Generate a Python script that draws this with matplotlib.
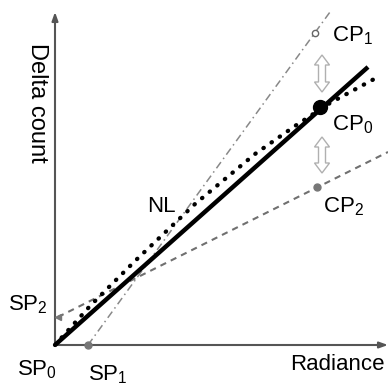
import matplotlib
matplotlib.use('Agg')
from matplotlib import pyplot as plt
from matplotlib.patches import Polygon

plt.rcParams['font.family'] = ['Liberation Sans', 'DejaVu Sans']
plt.rcParams['mathtext.fontset'] = 'custom'
plt.rcParams['mathtext.rm'] = 'Liberation Sans'
plt.rcParams['mathtext.default'] = 'regular'

# points (radiance, delta count), arbitrary units
sp0 = (0, 0)
sp1 = (33, 0)
sp2 = (3, 28)
cp0 = (265, 238)
cp1 = (260, 312)
cp2 = (262, 158)

# lines
lin_x = [0, 313]
lin_y = [0, 278]
dd_x = [33, 275]          # SP1 -> CP1
dd_y = [0, 333]
dash_x = [3, 333]         # SP2 -> CP2
dash_y = [28, 193]
nl_x = [0, 35, 80, 140, 200, 240, 275, 321]   # nonlinear response
nl_y = [0, 39, 84, 141, 191, 219, 242, 267]

# gap arrows between CP1/CP0 and CP0/CP2
gap_x = [267, 267]
gap_top = [290, 208]
gap_bot = [253, 172]


def hollow_double_arrow(ax, x, y_top, y_bot, sw=3.5, hw=7.5, hl=10):
    pts = [(x, y_top), (x + hw, y_top - hl), (x + sw, y_top - hl),
           (x + sw, y_bot + hl), (x + hw, y_bot + hl), (x, y_bot),
           (x - hw, y_bot + hl), (x - sw, y_bot + hl), (x - sw, y_top - hl),
           (x - hw, y_top - hl)]
    ax.add_patch(Polygon(pts, closed=True, fc='white', ec='#b0b0b0', lw=1, zorder=2))


fig = plt.figure(figsize=(3.88, 3.87), dpi=100)
ax = fig.add_axes([0, 0, 1, 1])
ax.set_xlim(-55, 333)
ax.set_ylim(-42, 345)
ax.axis('off')

# axes with arrows
ax.annotate('', xy=(0, 333), xytext=(0, 0),
            arrowprops=dict(arrowstyle='-|>,head_length=0.5,head_width=0.18',
                            color='#555555', lw=1.5, shrinkA=0, shrinkB=0))
ax.annotate('', xy=(333, 0), xytext=(0, 0),
            arrowprops=dict(arrowstyle='-|>,head_length=0.5,head_width=0.18',
                            color='#555555', lw=1.5, shrinkA=0, shrinkB=0))

ax.plot(dd_x, dd_y, color='#888888', lw=1.1, ls=(0, (5, 2.5, 1, 2.5)), zorder=3)
ax.plot(dash_x, dash_y, color='#707070', lw=1.5, ls=(0, (3, 2.5)), zorder=3)
ax.plot(nl_x, nl_y, color='black', lw=3.1, ls=(0, (0.1, 2.2)),
        dash_capstyle='round', zorder=4)
ax.plot(lin_x, lin_y, color='black', lw=3.2, solid_capstyle='butt', zorder=5)

ax.plot(*cp0, 'o', color='black', ms=10, zorder=6)
ax.plot(*cp1, 'o', mfc='white', mec='#666666', mew=1, ms=4.5, zorder=6)
ax.plot(*cp2, 'o', color='#777777', ms=5, zorder=6)
ax.plot(*sp1, 'o', color='#777777', ms=5, zorder=6)
ax.plot(*sp2, '<', color='#777777', ms=5, zorder=6)

for x, yt, yb in zip(gap_x, gap_top, gap_bot):
    hollow_double_arrow(ax, x, yt, yb)

fs = 16
ax.text(-18, 242, 'Delta count', rotation=-90, fontsize=17, ha='center', va='center')
ax.text(235, -25, 'Radiance', fontsize=fs, ha='left', va='baseline')
ax.text(277, 304, 'CP$_1$', fontsize=fs, va='baseline')
ax.text(277, 215, 'CP$_0$', fontsize=fs, va='baseline')
ax.text(268, 133, 'CP$_2$', fontsize=fs, va='baseline')
ax.text(92, 133, 'NL', fontsize=fs, va='baseline')
ax.text(-47, 35, 'SP$_2$', fontsize=fs, va='baseline')
ax.text(-38, -30, 'SP$_0$', fontsize=fs, va='baseline')
ax.text(33, -35, 'SP$_1$', fontsize=fs, va='baseline')

fig.savefig('out.png', dpi=100)
